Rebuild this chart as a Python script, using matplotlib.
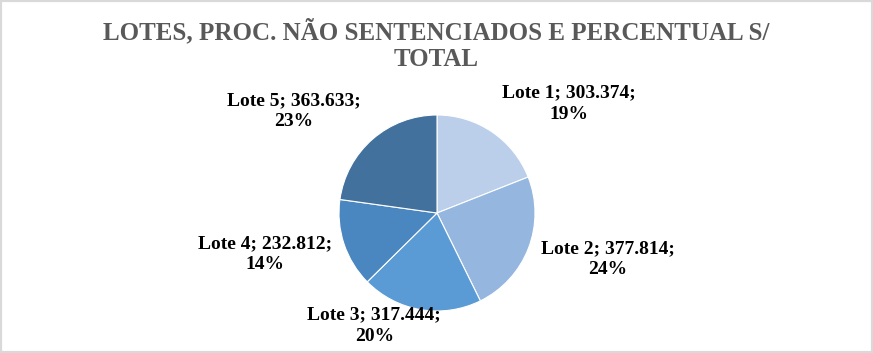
import numpy as np
import matplotlib.pyplot as plt
from matplotlib.patches import Rectangle

# dados do grafico
lotes = ['Lote 1', 'Lote 2', 'Lote 3', 'Lote 4', 'Lote 5']
valores = [303374, 377814, 317444, 232812, 363633]
percentuais = [19, 24, 20, 14, 23]   # como aparecem no grafico original
cores = ['#BBCFEA', '#95B7DF', '#5B9BD5', '#4A86BF', '#41719C']
titulo = 'LOTES, PROC. NÃO SENTENCIADOS E PERCENTUAL S/\nTOTAL'

# posicao dos rotulos (em raios do grafico)
pos_rotulos = [(1.35, 1.12), (1.745, -0.47), (-0.64, -1.15), (-1.755, -0.42), (-1.46, 1.04)]

def fmt(v):
    return '{:,}'.format(v).replace(',', '.')

fig = plt.figure(figsize=(8.73, 3.53), dpi=100)
fig.patches.append(Rectangle((0, 0), 1, 1, transform=fig.transFigure,
                             fill=False, edgecolor='#D9D9D9', linewidth=3))

W, H = 873, 353
cx, cy, r = 437, 213, 98
ax = fig.add_axes([(cx - r) / W, (H - cy - r) / H, 2 * r / W, 2 * r / H])
ax.pie(valores, colors=cores, startangle=90, counterclock=False,
       wedgeprops={'linewidth': 0.8, 'edgecolor': 'white'})
ax.set_xlim(-1, 1)
ax.set_ylim(-1, 1)
ax.set_aspect('equal')

for nome, v, pct, (x, y) in zip(lotes, valores, percentuais, pos_rotulos):
    ax.text(x, y, '%s; %s;\n%d%%' % (nome, fmt(v), pct), ha='center', va='center',
            fontsize=14, fontweight='bold', family='Liberation Serif',
            color='black', linespacing=1.35, clip_on=False)

fig.text(0.5, (H - 45) / H, titulo, ha='center', va='center', fontsize=18,
         fontweight='bold', family='Liberation Serif', color='#595959',
         linespacing=1.2)

fig.savefig('out.png', dpi=100)
